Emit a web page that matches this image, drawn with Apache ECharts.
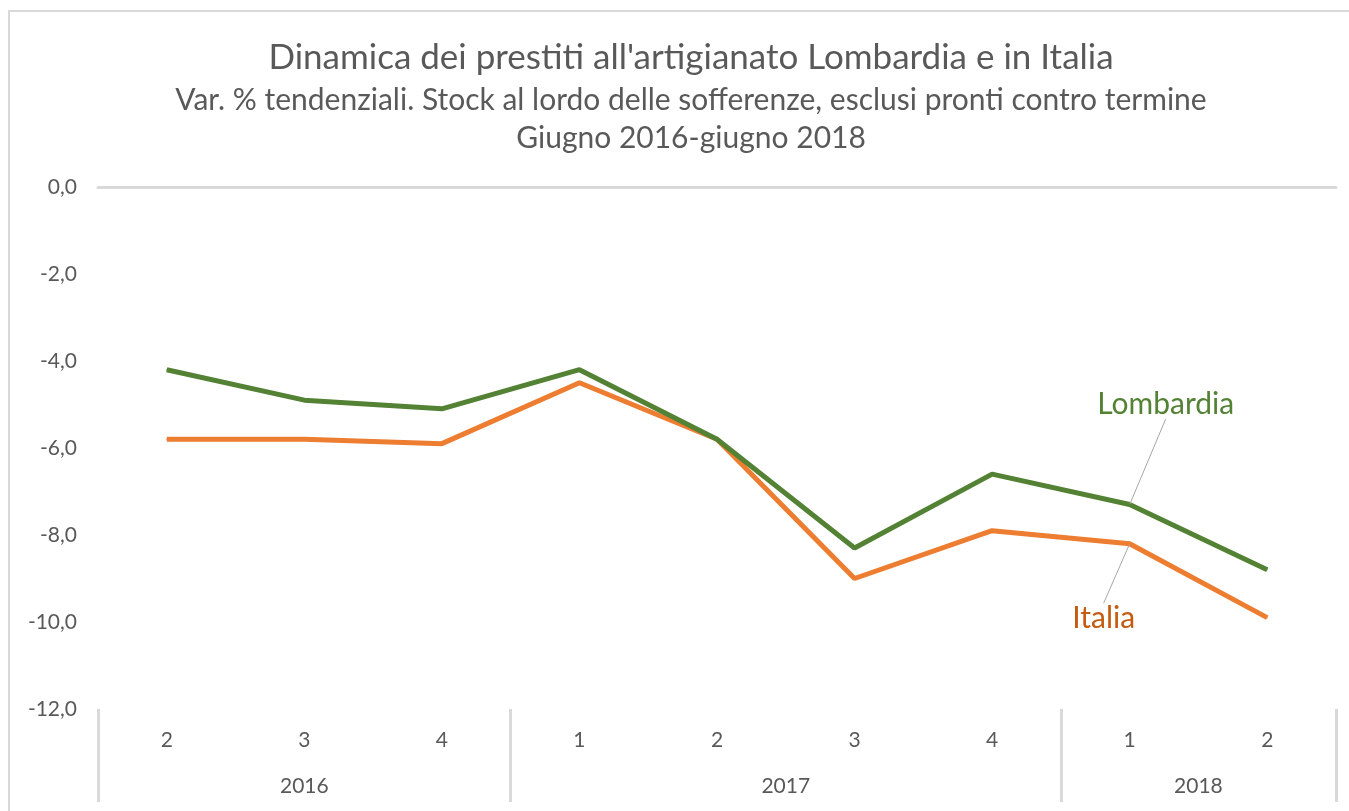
<!DOCTYPE html>
<html>
<head>
<meta charset="utf-8">
<script src="https://cdn.jsdelivr.net/npm/echarts@6/dist/echarts.min.js"></script>
<style>
html,body{margin:0;padding:0;background:#fff;}
#frame{position:absolute;left:8px;top:10px;width:1341px;height:801px;border-left:2px solid #D9D9D9;border-top:2px solid #D9D9D9;box-sizing:border-box;}
#chart{position:absolute;left:0;top:0;width:1349px;height:811px;}
</style>
</head>
<body>
<div id="frame"></div>
<div id="chart"></div>
<script>
const quarters = ['2','3','4','1','2','3','4','1','2'];
const years = ['2016','2017','2018'];
const yearSizes = [3, 4, 2];
const lombardia = [-4.2, -4.9, -5.1, -4.2, -5.8, -8.3, -6.6, -7.3, -8.8];
const italia = [-5.8, -5.8, -5.9, -4.5, -5.8, -9.0, -7.9, -8.2, -9.9];
const yTicks = {min: -12, max: 0, interval: 2};
const labelIndex = 7;

const FONT = "Lato,'Noto Sans',sans-serif";
const TXT = '#595959';
const GRID_C = '#D9D9D9';

const bounds = [0];
yearSizes.forEach(s => bounds.push(bounds[bounds.length - 1] + s));
const centers = yearSizes.map((s, i) => bounds[i] + s / 2);

function withLabel(arr, text, pos, color) {
  return arr.map((v, i) => i === labelIndex ? {
    value: v,
    label: {show: true, position: pos, formatter: text, fontFamily: FONT, fontSize: 30, color: color}
  } : v);
}

const chart = echarts.init(document.getElementById('chart'));
chart.setOption({
  animation: false,
  backgroundColor: 'transparent',
  title: {
    text: "Dinamica dei prestiti all'artigianato Lombardia e in Italia",
    subtext: "Var. % tendenziali. Stock al lordo delle sofferenze, esclusi pronti contro termine\nGiugno 2016-giugno 2018",
    left: 686, top: 35, textAlign: 'center', itemGap: 6,
    textStyle: {fontFamily: FONT, fontSize: 35, fontWeight: 'normal', color: TXT},
    subtextStyle: {fontFamily: FONT, fontSize: 30, color: TXT, lineHeight: 38}
  },
  grid: {left: 98, right: 13, top: 187, bottom: 102, containLabel: false},
  xAxis: [
    {
      type: 'category', data: quarters, position: 'bottom', boundaryGap: true,
      axisLine: {show: false}, axisTick: {show: false},
      axisLabel: {fontFamily: FONT, fontSize: 21, color: TXT, margin: 21}
    },
    {
      type: 'category', data: quarters, position: 'top', boundaryGap: true,
      axisLine: {show: true, lineStyle: {color: GRID_C, width: 3}},
      axisTick: {show: false}, axisLabel: {show: false}
    },
    {
      type: 'value', position: 'bottom', min: 0, max: bounds[bounds.length - 1],
      axisLine: {show: false}, splitLine: {show: false},
      axisTick: {show: true, customValues: bounds, length: 93, lineStyle: {color: GRID_C, width: 3}},
      axisLabel: {
        show: true, customValues: centers, margin: 67,
        fontFamily: FONT, fontSize: 21, color: TXT,
        formatter: v => { const i = centers.indexOf(v); return i >= 0 ? years[i] : ''; }
      }
    }
  ],
  yAxis: {
    type: 'value', min: yTicks.min, max: yTicks.max, interval: yTicks.interval,
    axisLine: {show: false}, axisTick: {show: false}, splitLine: {show: false},
    axisLabel: {fontFamily: FONT, fontSize: 21, color: TXT, margin: 21,
      formatter: v => v.toFixed(1).replace('.', ',')}
  },
  series: [
    {
      name: 'Lombardia', type: 'line', xAxisIndex: 0, data: withLabel(lombardia, 'Lombardia', 'top', '#548235'),
      symbol: 'circle', symbolSize: 1, showSymbol: true,
      lineStyle: {color: '#548235', width: 5}, itemStyle: {color: '#548235'},
      labelLine: {show: true, lineStyle: {color: '#A6A6A6', width: 1}},
      labelLayout: p => p.dataIndex === labelIndex ? {dx: 36, dy: -80} : {},
      z: 3
    },
    {
      name: 'Italia', type: 'line', xAxisIndex: 0, data: withLabel(italia, 'Italia', 'bottom', '#C55A11'),
      symbol: 'circle', symbolSize: 1, showSymbol: true,
      lineStyle: {color: '#ED7D31', width: 5}, itemStyle: {color: '#ED7D31'},
      labelLine: {show: true, lineStyle: {color: '#A6A6A6', width: 1}},
      labelLayout: p => p.dataIndex === labelIndex ? {dx: -26, dy: 54} : {},
      z: 2
    }
  ]
});
</script>
</body>
</html>
